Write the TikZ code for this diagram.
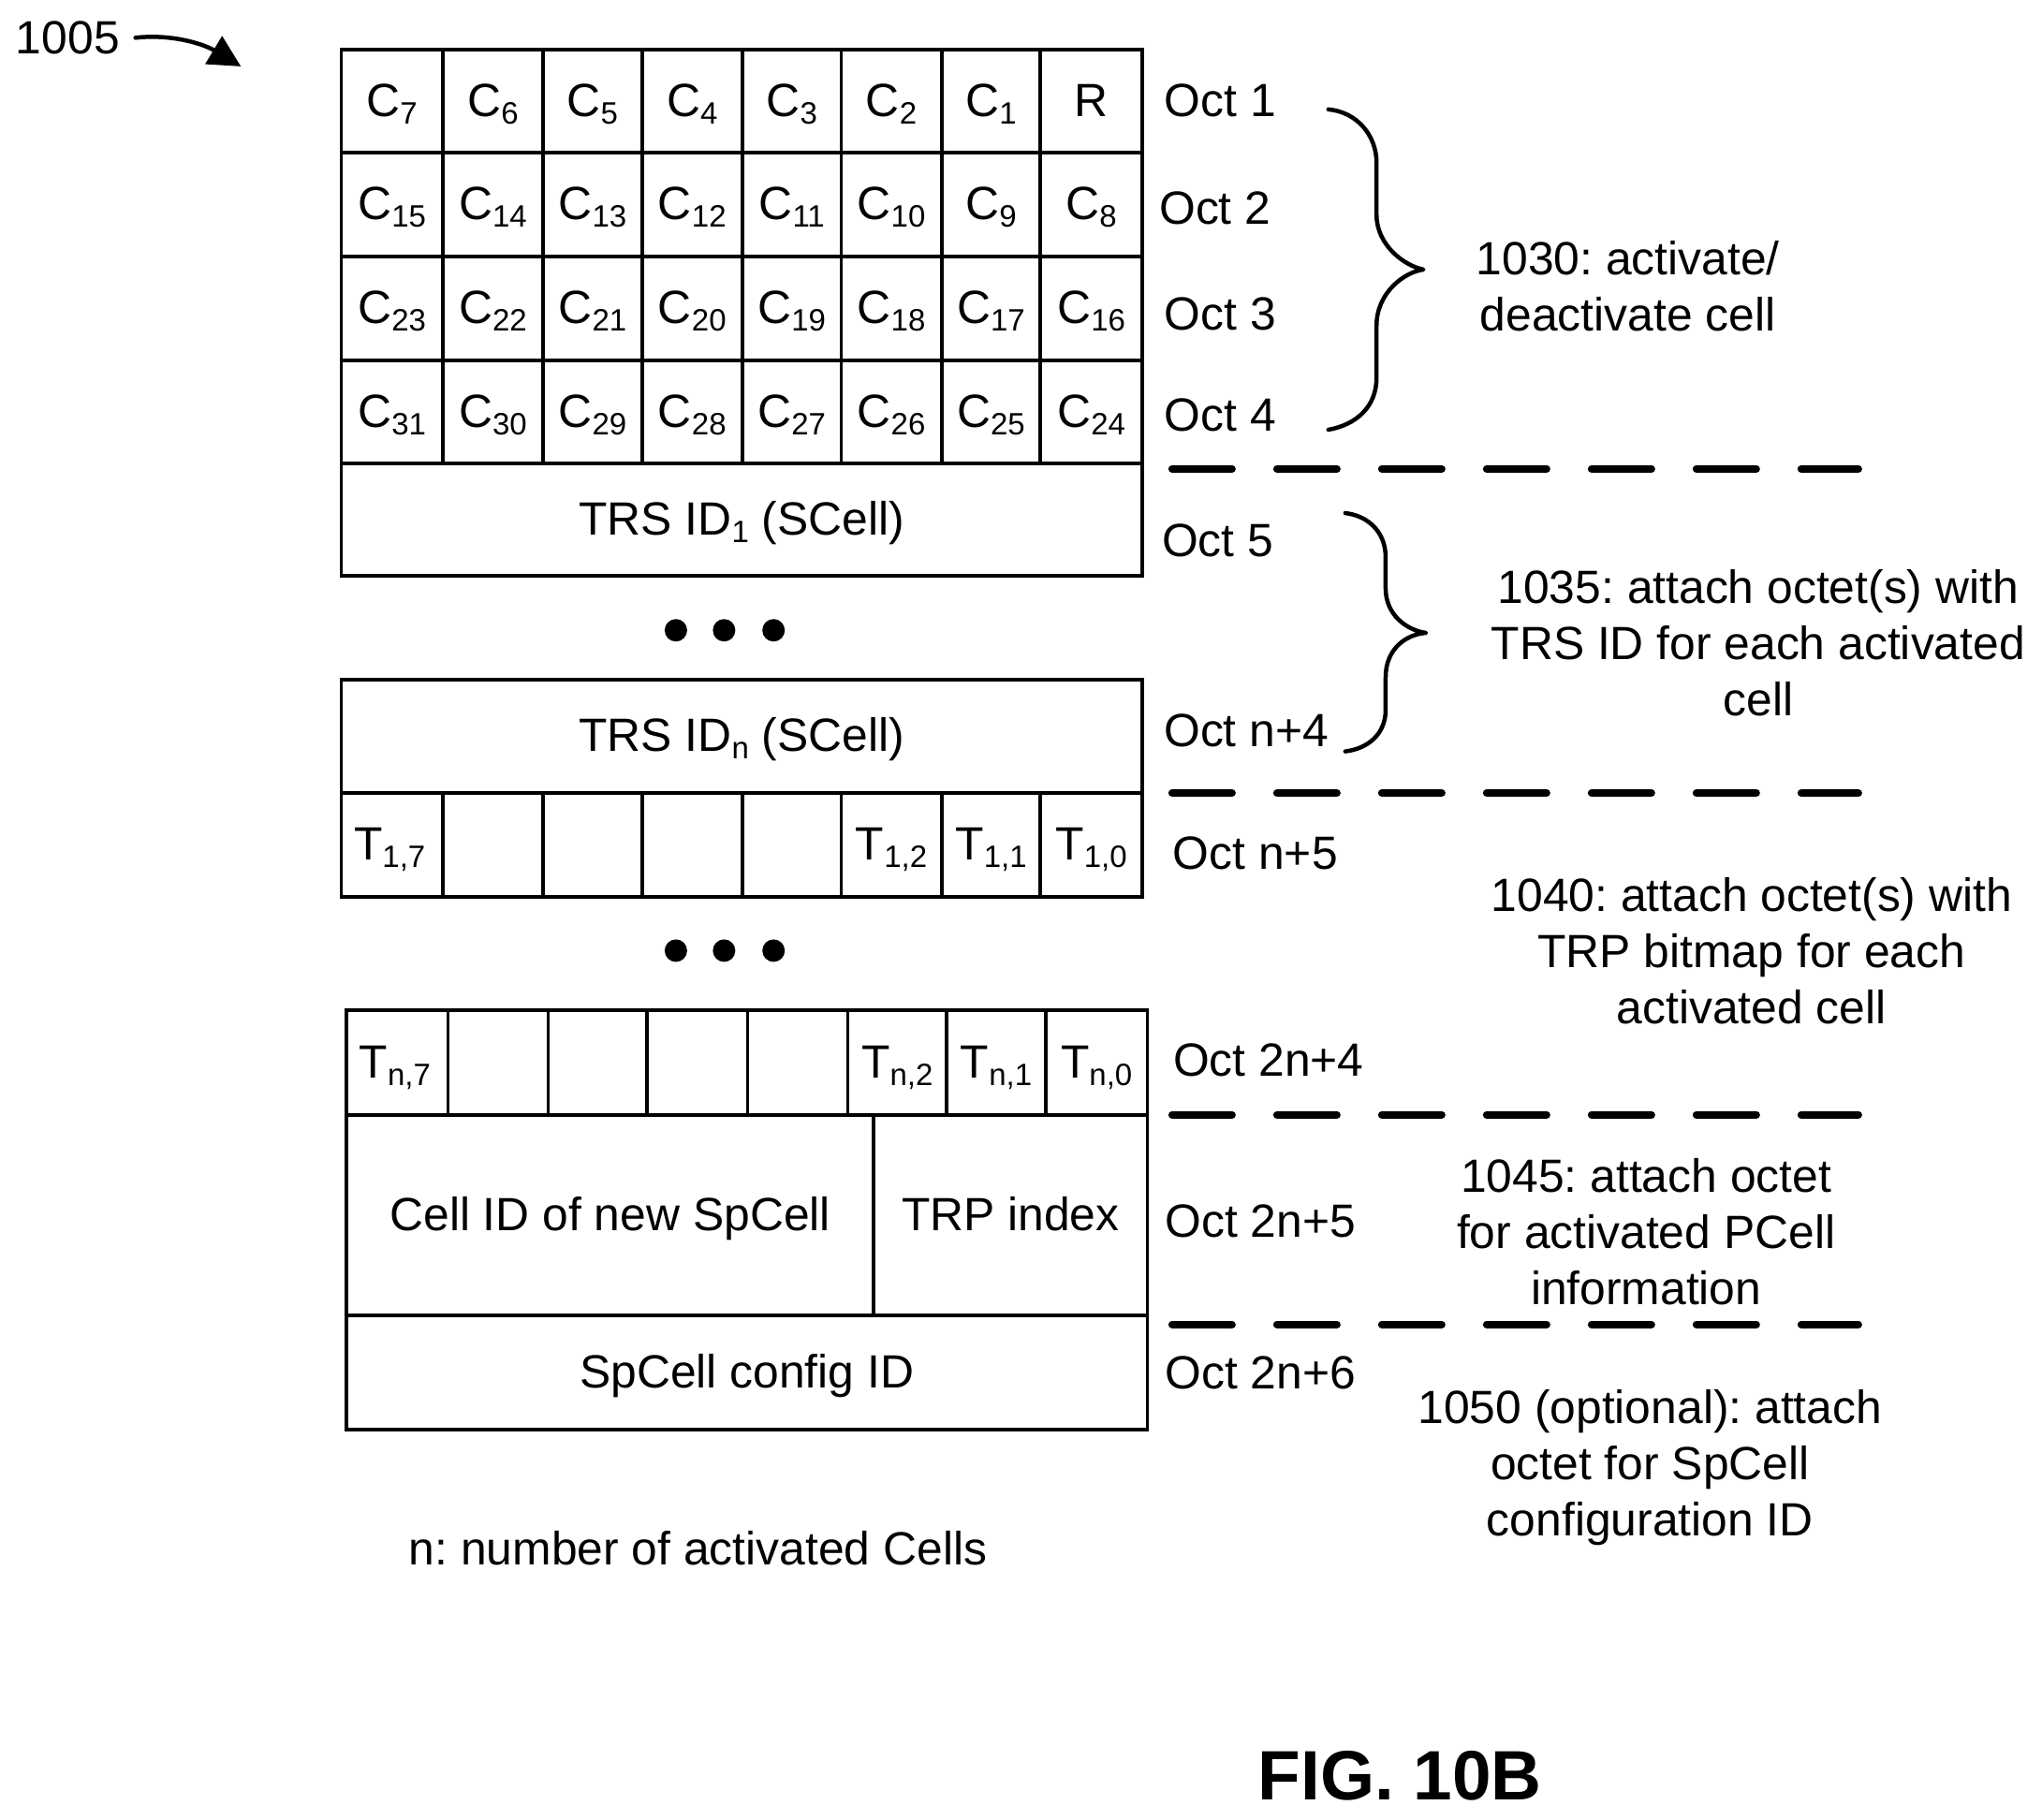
\documentclass[tikz,border=0pt]{standalone}
\usepackage{fontspec}
\setmainfont{Liberation Sans}
\usetikzlibrary{arrows.meta}
\newcommand\sbs[1]{\raisebox{-8pt}{\fontsize{33}{33}\selectfont #1}}
\newcommand\cellbox[6]{%
  \pgfmathsetmacro\cw{(#4-#2)*1.391}\pgfmathsetmacro\ch{(#5-#3)*1.391}%
  \node[cellnode,minimum width=\cw pt,minimum height=\ch pt] (#1) at ({(#2+#4)/2},{(#3+#5)/2}) {#6};}
\tikzset{
  cellnode/.style={draw=black,line width=3.8pt,inner sep=0pt,outer sep=0pt,text height=32.5pt,text depth=0pt,align=center},
  lbl/.style={inner sep=0pt,outer sep=0pt,align=center},
  dashline/.style={line width=8pt,line cap=round,dash pattern=on 64pt off 48pt},
  bracepath/.style={line width=4.5pt,line cap=round,line join=round},
  dotmark/.style={circle,fill=black,inner sep=0pt,minimum size=24pt},
}
\begin{document}
\begin{tikzpicture}[x=1.391pt,y=-1.391pt,font=\fontsize{49.8}{60}\selectfont\frenchspacing]
\useasboundingbox (0,0) rectangle (1568,1396.9);
% top grid rows
\foreach \r/\ya/\yb/\la/\lb/\lc/\ld/\le/\lf/\lg/\lh in {
 1/38/117/7/6/5/4/3/2/1/x,
 2/117/197/15/14/13/12/11/10/9/8,
 3/197/277/23/22/21/20/19/18/17/16,
 4/277/356/31/30/29/28/27/26/25/24}{
  \foreach \c/\xa/\xb/\l in {1/262/340/\la,2/340/417/\lb,3/417/493/\lc,4/493/570/\ld,5/570/646/\le,6/646/723/\lf,7/723/799/\lg,8/799/877/\lh}{
    \ifnum\r=1 \ifnum\c=8
      \cellbox{c\r-\c}{\xa}{\ya}{\xb}{\yb}{R}
    \else
      \cellbox{c\r-\c}{\xa}{\ya}{\xb}{\yb}{C\sbs{\l}}
    \fi\else
      \cellbox{c\r-\c}{\xa}{\ya}{\xb}{\yb}{C\sbs{\l}}
    \fi
  }
}
\cellbox{trs1}{262}{356}{877}{442}{TRS ID\sbs{1} (SCell)}
\cellbox{trsn}{262}{522}{877}{609}{TRS ID\sbs{n} (SCell)}
% T rows
\foreach \c/\xa/\xb/\l in {1/262/340/{\kern-5pt T\sbs{1,7}},2/340/417/{},3/417/493/{},4/493/570/{},5/570/646/{},6/646/723/{T\sbs{1,2}},7/723/799/{T\sbs{1,1}},8/799/877/{T\sbs{1,0}}}{
  \cellbox{ta-\c}{\xa}{609}{\xb}{689}{\l}
}
\foreach \c/\xa/\xb/\l in {1/266/344/{\kern-5pt T\sbs{n,7}},2/344/421/{},3/421/497/{},4/497/574/{},5/574/651/{},6/651/727/{T\sbs{n,2}},7/727/803/{T\sbs{n,1}},8/803/881/{T\sbs{n,0}}}{
  \cellbox{tb-\c}{\xa}{776}{\xb}{856}{\l}
}
\cellbox{newcell}{266}{856}{671}{1010}{Cell ID of new SpCell}
\cellbox{trpidx}{671}{856}{881}{1010}{TRP index}
\cellbox{spcfg}{266}{1010}{881}{1098}{SpCell config ID}
% dots
\foreach \n/\x/\y in {a/519/484,b/556/484,c/594/484,d/519/730,e/556/730,f/594/730}{
  \node[dotmark] (dot\n) at (\x,\y) {};
}
% octet labels
\node[lbl] (o1) at (937,77) {Oct 1};
\node[lbl] (o2) at (933,160) {Oct 2};
\node[lbl] (o3) at (937,241) {Oct 3};
\node[lbl] (o4) at (937,319) {Oct 4};
\node[lbl] (o5) at (935,415) {Oct 5};
\node[lbl] (o6) at (957,561) {Oct n+4};
\node[lbl] (o7) at (964,655) {Oct n+5};
\node[lbl] (o8) at (974,814) {Oct 2n+4};
\node[lbl] (o9) at (968,938) {Oct 2n+5};
\node[lbl] (o10) at (968,1054) {Oct 2n+6};
% dashed separators
\foreach \n/\y in {a/360,b/609,c/856,d/1017}{
  \coordinate (d\n1) at (900,\y);
  \coordinate (d\n2) at (1427,\y);
  \draw[dashline] (d\n1) -- (d\n2);
}
% braces
\coordinate (b1s) at (1020,84);
\coordinate (b1t) at (1093,207);
\coordinate (b1e) at (1020,330);
\draw[bracepath] (b1s) .. controls (1042,86) and (1057,104) .. (1057,125) -- (1057,165)
  .. controls (1057,188) and (1078,204) .. (b1t)
  .. controls (1078,209) and (1057,225) .. (1057,250) -- (1057,290)
  .. controls (1057,312) and (1042,326) .. (b1e);
\coordinate (b2s) at (1033,394);
\coordinate (b2t) at (1095,486);
\coordinate (b2e) at (1033,577);
\draw[bracepath] (b2s) .. controls (1050,396) and (1064,408) .. (1064,428) -- (1064,452)
  .. controls (1064,472) and (1080,484) .. (b2t)
  .. controls (1080,487) and (1064,498) .. (1064,520) -- (1064,545)
  .. controls (1064,564) and (1050,575) .. (b2e);
% side labels
\node[lbl] (l1030) at (1250,220) {1030: activate/\\deactivate cell};
\node[lbl] (l1035) at (1350,494) {1035: attach octet(s) with\\TRS ID for each activated\\cell};
\node[lbl] (l1040) at (1345,730) {1040: attach octet(s) with\\TRP bitmap for each\\activated cell};
\node[lbl] (l1045) at (1264,946) {1045: attach octet\\for activated PCell\\information};
\node[lbl] (l1050) at (1267,1127) {1050 (optional): attach\\octet for SpCell\\configuration ID};
\node[lbl] (lnote) at (536,1189) {n: number of activated Cells};
\node[lbl,font=\fontsize{74.7}{80}\selectfont\bfseries] (fig) at (1075,1364) {FIG. 10B};
% reference arrow
\node[lbl] (ref) at (52,29) {1005};
\coordinate (reftip) at (185,51);
\draw[line width=4.5pt,line cap=round,-{Triangle[length=34pt,width=34pt]}] (104,29) .. controls (130,26) and (155,33) .. (reftip);
\end{tikzpicture}
\end{document}
